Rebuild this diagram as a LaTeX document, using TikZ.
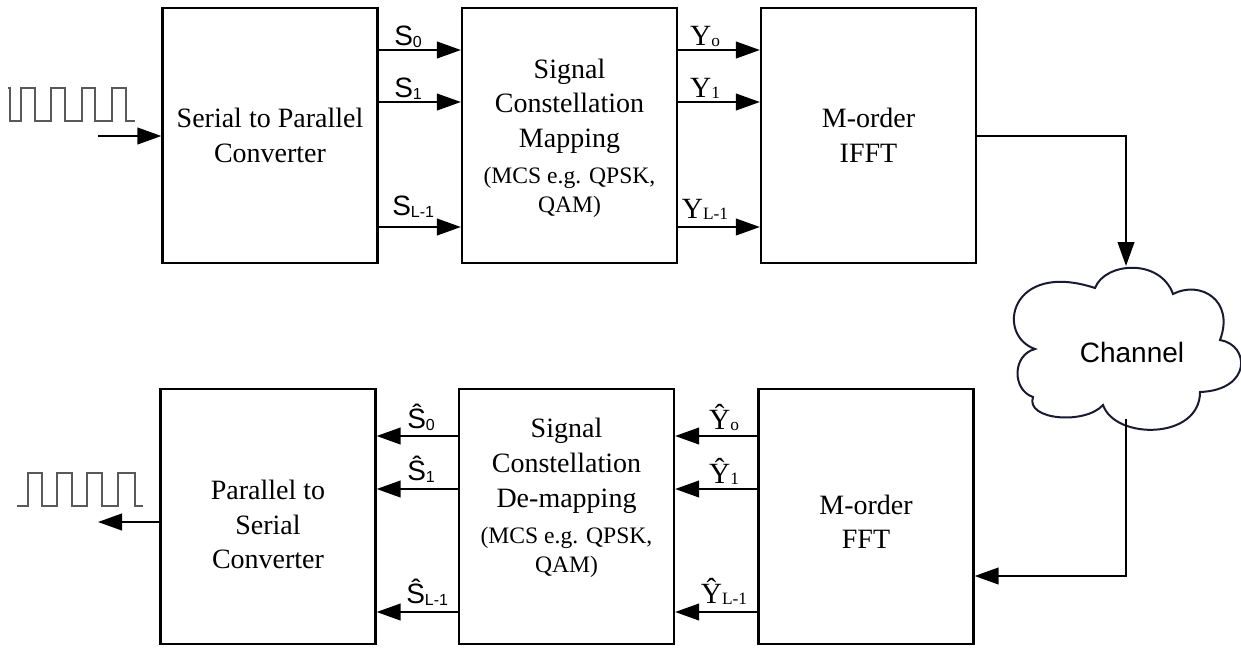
\documentclass[tikz,border=0pt]{standalone}
\usepackage{fontspec}
\setmainfont{Liberation Serif}
\newfontfamily\arialf{Liberation Sans}
\usetikzlibrary{arrows.meta,calc}
\newcommand\mainf{\fontsize{21}{26}\selectfont}
\newcommand\smallf{\fontsize{17.7}{22}\selectfont}
\newcommand\labf{\arialf\fontsize{21}{24}\selectfont}
\newcommand\ylabf{\fontsize{22}{24}\selectfont}
\newcommand\subf{\fontsize{12}{13}\selectfont}
\newcommand\ysubf{\fontsize{13}{14}\selectfont}
\newcommand\sub[1]{\raisebox{-1.8pt}{\subf #1}}
\newcommand\ysub[1]{\raisebox{-1.2pt}{\ysubf #1}}
\definecolor{cloudc}{RGB}{25,25,50}
\begin{document}
\begin{tikzpicture}[x=0.75pt,y=-0.75pt,
  box/.style={draw, line width=1.7pt, minimum width=161.25pt, minimum height=191.25pt, inner sep=0pt},
  arr/.style={line width=1.5pt, -{Triangle[length=18pt,width=12.5pt]}},
  txt/.style={font=\mainf, align=center, inner sep=0pt},
  slab/.style={font=\labf, inner sep=0pt, anchor=base west},
  ylab/.style={font=\ylabf, inner sep=0pt, anchor=base},
  wave/.style={line width=1.1pt, draw=black!65},
  cloudline/.style={line width=1.5pt, draw=cloudc}]
\useasboundingbox (0,0) rectangle (1241,654);

% boxes
\node[box] (b1) at (270,135.5) {};
\node[box] (b2) at (569.5,135.5) {};
\node[box] (b3) at (868.5,135.5) {};
\node[box] (b4) at (268,516.5) {};
\node[box] (b5) at (566.5,516.5) {};
\node[box] (b6) at (866,516.5) {};

% box texts
\node[txt] (t1) at (b1.center) {Serial to Parallel\\Converter};
\node[txt] (t2) at ([yshift=-2pt]b2.center) {Signal\\Constellation\\Mapping\\[1pt]{\smallf (MCS e.g. QPSK,}\\[-4pt]{\smallf QAM)}};
\node[txt] (t3) at (b3.center) {M-order\\IFFT};
\node[txt] (t4) at ([yshift=-6pt]b4.center) {Parallel to\\Serial\\Converter};
\node[txt] (t5) at ([yshift=14pt]b5.center) {Signal\\Constellation\\De-mapping\\[1pt]{\smallf (MCS e.g. QPSK,}\\[-4pt]{\smallf QAM)}};
\node[txt] (t6) at ([yshift=-4pt]b6.center) {M-order\\FFT};

% row levels
\coordinate (r0) at (0,50);
\coordinate (r1) at (0,102);
\coordinate (r2) at (0,227);
\coordinate (q0) at (0,436);
\coordinate (q1) at (0,489);
\coordinate (q2) at (0,612);
\coordinate (yfft) at (0,576);

\foreach \r in {r0,r1,r2}{
  \draw[arr] (b1.east |- \r) -- (b2.west |- \r);
  \draw[arr] (b2.east |- \r) -- (b3.west |- \r);
}
\foreach \q in {q0,q1,q2}{
  \draw[arr] (b6.west |- \q) -- (b5.east |- \q);
  \draw[arr] (b5.west |- \q) -- (b4.east |- \q);
}

% labels top
\node[slab] (ls0) at (394,45) {S\sub{0}};
\node[slab] (ls1) at (394,97) {S\sub{1}};
\node[slab] (ls2) at (392,215) {S\sub{L-1}};
\node[ylab] (ly0) at (705,45) {Y\ysub{o}};
\node[ylab] (ly1) at (705,97) {Y\ysub{1}};
\node[ylab] (ly2) at (705,218) {Y\ysub{L-1}};
% labels bottom
\node[slab] (lp0) at (407,428) {Ŝ\sub{0}};
\node[slab] (lp1) at (407,480) {Ŝ\sub{1}};
\node[slab] (lp2) at (406,603) {Ŝ\sub{L-1}};
\node[ylab] (lz0) at (724,429) {Ŷ\ysub{o}};
\node[ylab] (lz1) at (724,483) {Ŷ\ysub{1}};
\node[ylab] (lz2) at (724,603) {Ŷ\ysub{L-1}};

% input / output
\coordinate (src) at (98,136);
\draw[arr] (src) -- (b1.west |- src);
\coordinate (dst) at (98,522);
\draw[arr] (b4.west |- dst) -- (dst);

% square waves
\draw[wave] (8,88) -- (10,88) -- (10,121) -- (21,121) -- (21,88) -- (35,88) -- (35,121) -- (51,121) -- (51,88) -- (65,88) -- (65,121) -- (82,121) -- (82,88) -- (95,88) -- (95,121) -- (112,121) -- (112,88) -- (126,88) -- (126,121) -- (135,121);
\draw[wave] (17,506) -- (28,506) -- (28,473) -- (42,473) -- (42,506) -- (57,506) -- (57,473) -- (72,473) -- (72,506) -- (87,506) -- (87,473) -- (102,473) -- (102,506) -- (118,506) -- (118,473) -- (135,473) -- (135,506) -- (143,506);

% cloud
\draw[cloudline] (1035,349) .. controls (995,335) and (1010,260) .. (1095,288)
  .. controls (1105,262) and (1160,258) .. (1173,294)
  .. controls (1200,280) and (1235,300) .. (1220,340)
  .. controls (1250,345) and (1252,390) .. (1200,392)
  .. controls (1200,440) and (1115,440) .. (1103,405)
  .. controls (1085,425) and (1025,420) .. (1033,397)
  .. controls (1012,390) and (1012,355) .. (1035,349) -- cycle;
\node[font=\arialf\fontsize{21}{24}\selectfont, inner sep=0pt] (ch) at (1132,352) {Channel};
\coordinate (chin) at (1126,266);
\coordinate (chout) at (1126,419);
\draw[arr] (b3.east) -| (chin);
\draw[arr] (chout) |- (b6.east |- yfft);
\end{tikzpicture}
\end{document}
